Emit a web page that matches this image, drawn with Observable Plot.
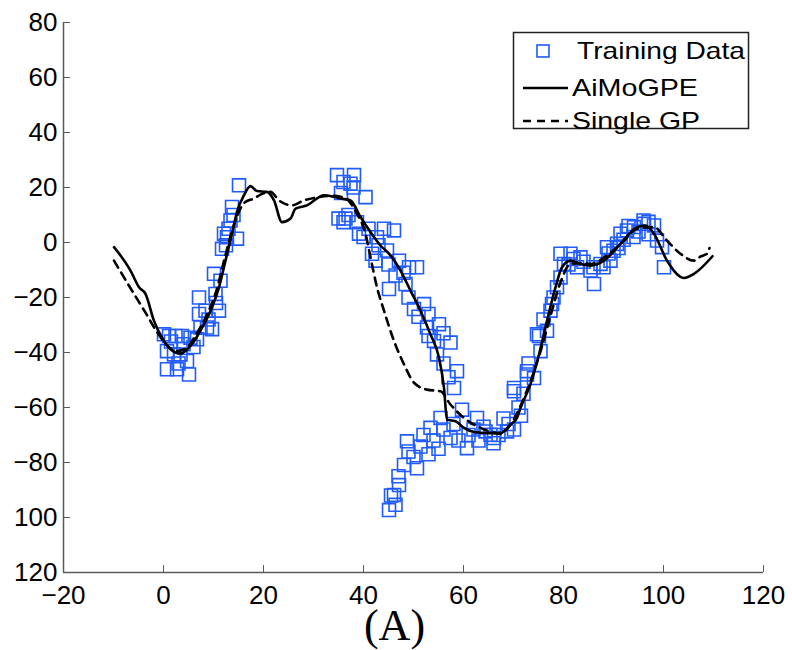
<!DOCTYPE html>
<html>
<head>
<meta charset="utf-8">
<script src="https://cdn.jsdelivr.net/npm/d3@7"></script>
<script src="https://cdn.jsdelivr.net/npm/@observablehq/plot@0.6"></script>
<style>
  body { margin: 0; background: white; }
  #chart svg { display: block; }
</style>
</head>
<body>
<div id="chart"></div>
<script>
// Tick values and labels
const xTicks = [-20, 0, 20, 40, 60, 80, 100, 120];
const xTickLabels = ["−20", "0", "20", "40", "60", "80", "100", "120"];
const yTicks = [80, 60, 40, 20, 0, -20, -40, -60, -80, -100, -120];
const yTickLabels = ["80", "60", "40", "20", "0", "−20", "−40", "−60", "−80", "100", "120"];

// Training data
const trainX = [
  0.1, 1.1, 2.4, 3.7, 5.4, 0.7, 2.1, 3.4, 4.7, 0.7, 2.7, 5.1, 6.7, 7.4, 8.7, 9.7, 7.1, 8.4, 11.1, 7.1, 10.4, 10.1, 11.4, 11.7, 12.1, 12.7, 14.7, 13.4, 13.7, 15.1,
  1.5, 4, 6, 3, 9, 10.5, 12.5, 13, 14,
  34.7, 36, 35, 36, 38.1, 37.4, 40.4, 36.4, 38.7, 39.1, 35.5, 37, 38,
  44.1, 46.1, 42.7, 41.7, 44.7, 42.4, 47.1, 50.7, 49.1, 46.4, 45.1, 48.4, 52.1, 50.1, 55.1, 52.7, 54.1, 57.4, 54.7, 58.7, 58.1, 59.7,
  40, 41, 43, 45, 48, 49, 51, 53, 56, 56, 57, 53,
  55.4, 62.7, 53.4, 48.7, 51.4, 57.4, 60.7, 65.4, 68.7, 48.1, 50.7, 47.1, 46.1, 45.1, 46.4,
  49, 52, 54, 56, 58, 59, 61, 63, 64, 66, 67, 69, 50, 47, 53, 55, 62, 45.5,
  64.4, 66.1, 70.1, 70.1, 72.7, 74.1, 75.4, 75.1, 76.7, 77.4, 77.7, 78.7, 79.4, 72.7, 74.7, 70.1,
  71, 72, 73, 76, 78, 71.5, 68,
  79.4, 81.4, 83.4, 80.1, 82.7, 85.4, 86.1, 87.4, 89.4, 88.7, 90.7, 91.4, 92.7, 94.1, 96.1, 98.1, 98.7, 99.7, 100.1,
  81, 84, 86, 88, 90, 92, 93, 95, 96, 97, 94, 82, 89, 91, 97
];
const trainY = [
  -33.4, -34, -34, -34, -34.6, -39.5, -40.7, -40.7, -43.1, -46.1, -46.1, -48, -35.2, -30.9, -30.9, -31.5, -26, -24.8, -24.8, -20, -18.7, -11.4, -13.9, -2.3, 3.2, 1.9, 1.4, 8, 12.9, 20.8,
  -36, -37, -38, -44, -28, -22, -1, 5, 10,
  24.5, 22, 8.7, 7.4, 24.5, 21.4, 16.5, 8.7, 7.4, 3.2, 18, 10, 20,
  5, 4.4, 1.9, -4.1, -2.9, -6.6, -6.6, -9, -9, -12, -16.9, -15.1, -22.4, -24.2, -29.7, -30.9, -35.8, -36.4, -40.7, -46.8, -52.9, -60.8,
  2, 5, -1, -8, -11, -20, -27, -26, -33, -44, -49, -34,
  -63.8, -63.8, -67.4, -72.3, -74.2, -71.1, -74.8, -69.9, -68.7, -80.9, -82.1, -88.2, -91.8, -97.3, -95.4,
  -76, -70, -72, -68, -66, -72, -70, -72, -67, -73, -70, -66, -78, -85, -77, -75, -68, -92,
  -68.7, -71.1, -68, -52.9, -48, -49.3, -39.5, -34, -32.1, -24.8, -22.4, -16.3, -12.7, -46.8, -33.4, -54.1,
  -60, -55, -44, -28, -20, -63, -64,
  -4.1, -4.1, -5.4, -7.8, -9, -10.2, -15.1, -7.8, -6.6, -1.7, -0.5, 3.2, 4.4, 5.6, 6.8, 6.2, 0.7, -1.7, -9,
  -8, -7, -9, -9, -3, 1, 6, 4, 8, 3, 2, -6, -4, -2, 7.5
];

// AiMoGPE prediction (solid)
const aimoX = [-9.9, -6.6, -4.9, -3.6, -1.9, -0.3, 1.4, 3.4, 5.4, 8.1, 9.7, 11.1, 12.4, 13.7, 14.7, 16.1, 17.4, 18.7, 20.7, 22.1, 23.7, 25.4, 26.4, 28.7, 32.1, 34.1, 35.4, 37.4, 39.4, 41.4, 43.4, 45.4, 47.4, 49.4, 51.4, 53.4, 55.1, 56.1, 56.7, 58.4, 60.1, 62.1, 64.7, 67.4, 69.4, 70.7, 71.4, 73.4, 75.1, 76.7, 78.4, 79.7, 81.4, 83.4, 85.4, 88.1, 91.4, 94.7, 96.4, 98.1, 100.7, 104.1, 106.1, 109.8];
const aimoY = [-1.7, -10.2, -16.3, -18.7, -28.5, -34.6, -38.8, -40.4, -37.6, -29.7, -23.6, -16.3, -6.6, 3.2, 11.1, 17.2, 20.5, 18.7, 18.4, 15.3, 7.4, 8.7, 12.3, 13.5, 17.2, 16.6, 16, 15.3, 9.3, 3.8, -1.1, -4.7, -10.2, -17.5, -24.8, -33.4, -41.9, -52.9, -64.4, -65, -67.4, -68.9, -69.3, -69.3, -66.2, -63.8, -60.2, -51.5, -40.7, -28.5, -16.3, -9, -6.6, -7.8, -8.4, -6.6, -0.5, 5.6, 6.2, 3.2, -6.6, -12.9, -11.4, -5];

// Single GP prediction (dashed)
const gpX = [-9.9, -7.9, -5.9, -3.6, -1.5, 0.5, 2.5, 4.5, 6.5, 8.5, 10.5, 12.2, 13.5, 14.8, 16.2, 18.1, 19.5, 21.4, 23.1, 25.7, 28.1, 31, 34, 36.5, 38.5, 40.4, 41.4, 42.7, 44.1, 46.1, 48.1, 50.1, 52.7, 55.4, 57.4, 60.1, 63.4, 67.4, 69.5, 71.5, 73.5, 75.5, 77.5, 79.4, 81.4, 83.5, 85.4, 88.7, 92.1, 94.7, 98.1, 100.7, 103.4, 106.1, 107.5, 108.7, 109.2];
const gpY = [-6.6, -12.7, -18.7, -25.5, -32, -37, -39.5, -38.5, -33.5, -27, -18, -6, 3, 10, 14.5, 16, 17.5, 18.4, 15.3, 13.5, 15.3, 16.5, 17, 16, 11, 3.2, -5.4, -16.3, -24.8, -35.8, -44.3, -51, -53.5, -54.1, -58.9, -63.8, -67.4, -69.5, -66, -59, -50, -39, -26, -14.5, -7.8, -7.5, -7.8, -4.7, 0.7, 5, 5.6, 0.7, -4.1, -6.6, -5, -4.1, -2];

const legendLabels = ["Training Data", "AiMoGPE", "Single GP"];
const caption = "(A)";

const train = trainX.map((x, i) => ({x, y: trainY[i]}));
const aimo = aimoX.map((x, i) => ({x, y: aimoY[i]}));
const gp = gpX.map((x, i) => ({x, y: gpY[i]}));

const blue = "#1f5bff";
const axisGrey = "#5a5a5a";
const font = "'Liberation Sans', Arial, sans-serif";

const chart = Plot.plot({
  width: 792,
  height: 650,
  marginLeft: 63,
  marginRight: 29,
  marginTop: 22,
  marginBottom: 78,
  style: {fontFamily: font, fontSize: "26px", color: "black", background: "white"},
  x: {domain: [-20, 120]},
  y: {domain: [-120, 80]},
  marks: [
    Plot.dot(train, {x: "x", y: "y", symbol: "square", r: 7.3, stroke: blue, strokeWidth: 1.6, fill: "none"}),
    Plot.line(gp, {x: "x", y: "y", stroke: "black", strokeWidth: 2.6, strokeDasharray: "8,6", curve: "monotone-x"}),
    Plot.line(aimo, {x: "x", y: "y", stroke: "black", strokeWidth: 2.6, curve: "monotone-x"}),
    Plot.ruleX([-20], {stroke: axisGrey, strokeWidth: 1.5}),
    Plot.ruleY([-120], {stroke: axisGrey, strokeWidth: 1.5}),
    Plot.axisX(xTicks, {tickSize: -7, tickPadding: 20, stroke: axisGrey, fill: "black", fontSize: 26, tickFormat: d => xTickLabels[xTicks.indexOf(d)], label: null}),
    Plot.axisY(yTicks, {tickSize: -7, tickPadding: 13, stroke: axisGrey, fill: "black", fontSize: 26, tickFormat: d => yTickLabels[yTicks.indexOf(d)], label: null}),
    Plot.text([caption], {frameAnchor: "bottom", dx: -19, dy: 53, fontFamily: "'Liberation Serif', 'Times New Roman', serif", fontSize: 44, fill: "black", lineAnchor: "middle"})
  ]
});

document.getElementById("chart").appendChild(chart);

// Legend
const svg = d3.select(chart);
const lg = svg.append("g").attr("class", "legend").attr("text-anchor", "start");
lg.append("rect").attr("x", 513.5).attr("y", 32.5).attr("width", 235).attr("height", 96)
  .attr("fill", "white").attr("stroke", "#222").attr("stroke-width", 1.5);
const rows = [51, 88, 121];
lg.append("rect").attr("x", 537).attr("y", rows[0] - 6).attr("width", 12).attr("height", 12)
  .attr("fill", "none").attr("stroke", blue).attr("stroke-width", 1.6);
lg.append("line").attr("x1", 523).attr("x2", 568).attr("y1", rows[1]).attr("y2", rows[1])
  .attr("stroke", "black").attr("stroke-width", 2.6);
lg.append("line").attr("x1", 523).attr("x2", 568).attr("y1", rows[2]).attr("y2", rows[2])
  .attr("stroke", "black").attr("stroke-width", 2.6).attr("stroke-dasharray", "8,6");
const textX = [577, 572, 572];
const textLen = [168, 126, 128];
legendLabels.forEach((t, i) => {
  lg.append("text").attr("x", textX[i]).attr("y", rows[i]).attr("dy", "0.35em")
    .attr("text-anchor", "start")
    .attr("font-family", font).attr("font-size", 24).attr("fill", "black")
    .attr("textLength", textLen[i]).attr("lengthAdjust", "spacingAndGlyphs")
    .text(t);
});
</script>
</body>
</html>
